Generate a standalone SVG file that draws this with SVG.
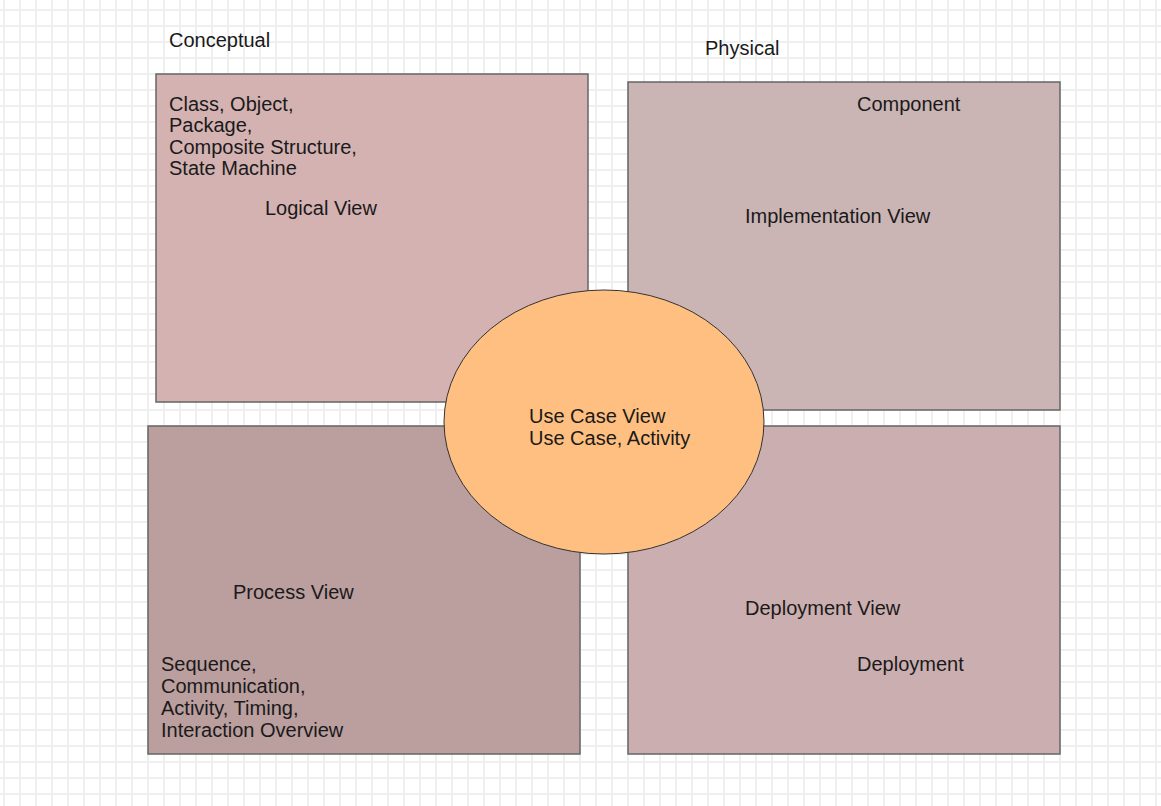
<svg xmlns="http://www.w3.org/2000/svg" width="1161" height="806" viewBox="0 0 1161 806">
<defs>
<pattern id="grid" x="3" y="9" width="16" height="16" patternUnits="userSpaceOnUse">
<path d="M1 0 V16 M0 1 H16" fill="none" stroke="#efefef" stroke-width="2"/>
</pattern>
</defs>
<style>
.box{stroke:#666666;stroke-width:1.5}
.t{font-family:"Liberation Sans",Arial,sans-serif;font-size:20px;fill:#1a1a1a}
</style>
<rect width="1161" height="806" fill="#ffffff"/>
<rect width="1161" height="806" fill="url(#grid)"/>
<g id="connectors"></g>
<text class="t" x="169" y="47">Conceptual</text>
<text class="t" x="705" y="55">Physical</text>
<g id="logical">
<rect class="box" x="156" y="74" width="432" height="328" fill="#d4b2b2"/>
<text class="t" x="169" y="111">Class, Object,</text>
<text class="t" x="169" y="132">Package,</text>
<text class="t" x="169" y="154">Composite Structure,</text>
<text class="t" x="169" y="175">State Machine</text>
<text class="t" x="265" y="215">Logical View</text>
</g>
<g id="implementation">
<rect class="box" x="628" y="82" width="432" height="328" fill="#cab4b4"/>
<text class="t" x="857" y="111">Component</text>
<text class="t" x="745" y="223">Implementation View</text>
</g>
<g id="process">
<rect class="box" x="148" y="426" width="432" height="328" fill="#bb9e9e"/>
<text class="t" x="233" y="599">Process View</text>
<text class="t" x="161" y="671">Sequence,</text>
<text class="t" x="161" y="693">Communication,</text>
<text class="t" x="161" y="715">Activity, Timing,</text>
<text class="t" x="161" y="737">Interaction Overview</text>
</g>
<g id="deployment">
<rect class="box" x="628" y="426" width="432" height="328" fill="#cbafb0"/>
<text class="t" x="745" y="615">Deployment View</text>
<text class="t" x="857" y="671">Deployment</text>
</g>
<g id="usecase">
<ellipse cx="604" cy="422" rx="160" ry="132" fill="#ffbf80" stroke="#333333" stroke-width="1"/>
<text class="t" x="529" y="423">Use Case View</text>
<text class="t" x="529" y="445">Use Case, Activity</text>
</g>
</svg>
